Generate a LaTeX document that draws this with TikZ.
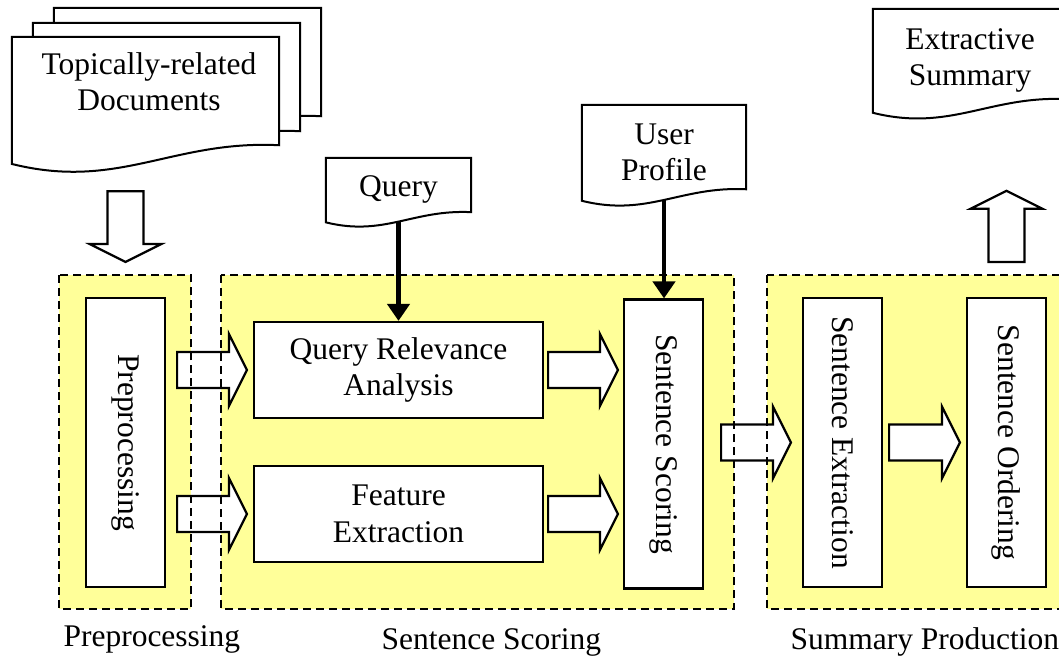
\documentclass[tikz,border=0pt]{standalone}
\usepackage{fontspec}
\usepackage{graphicx}
\setmainfont{Liberation Serif}
\usetikzlibrary{calc,arrows.meta}
\pgfdeclarelayer{background}
\pgfsetlayers{background,main}
\definecolor{stagefill}{HTML}{FFFF99}

\tikzset{
  every node/.style={font=\fontsize{31.5}{36.5}\selectfont},
  procbox/.style={draw, line width=2.2pt, fill=white, align=center, inner sep=0pt},
  vbox/.style={procbox, minimum width=79pt, minimum height=289pt},
  hbox/.style={procbox, minimum width=289pt, minimum height=96pt},
  docnode/.style={inner sep=0pt, align=center},
  docline/.style={draw, fill=white, line width=2pt},
  stagearea/.style={fill=stagefill},
  stageline/.style={draw, line width=1.8pt, dash pattern=on 8pt off 5pt},
  fatarrow/.style={draw, fill=white, line width=2.2pt, line join=miter},
  feed/.style={line width=4.5pt, -{Triangle[length=17pt 0 0,width=22pt 0 0]}},
  caption/.style={anchor=base west},
}

% document symbol with a wavy lower edge, built on a node;
% #2,#3 move a copy right/up (used for the stacked pages)
\newcommand\docframe[3]{%
  \path[docline] let \p1=($(#1.north west)+(#2pt,#3pt)$),
                     \p2=($(#1.south east)+(#2pt,#3pt)$),
                     \n1={\x2-\x1} in
    (\x1,\y1) -- (\x2,\y1) -- (\x2,{\y2+0.065*\n1})
    .. controls ({\x2-0.4*\n1},{\y2+0.085*\n1}) and ({\x1+0.4*\n1},{\y2-0.105*\n1})
    .. (\x1,{\y2-0.005*\n1}) -- cycle;}

% wide hollow arrow from #1 to #2
\newcommand\hollowarrow[2]{%
  \coordinate (hah) at ($(#2)!18pt!(#1)$);
  \path[fatarrow] ($(#1)!18pt!90:(#2)$) -- ($(hah)!18pt!90:(#2)$)
    -- ($(hah)!36pt!90:(#2)$) -- (#2) -- ($(hah)!36pt!-90:(#2)$)
    -- ($(hah)!18pt!-90:(#2)$) -- ($(#1)!18pt!-90:(#2)$) -- cycle;}

\begin{document}
\begin{tikzpicture}[x=1pt,y=-1pt]
\useasboundingbox (0,0) rectangle (1059,657);

% documents
\node[docnode, minimum width=267pt, minimum height=125.4pt] (docs) at (145.5,99.7) {};
\node[docnode] (docstext) at (149,81.5) {Topically-related\\Documents};
\node[docnode, minimum width=145pt, minimum height=63.4pt] (query) at (398.5,189.7) {Query};
\node[docnode, minimum width=164pt, minimum height=94.7pt] (user) at (664,152.4) {User\\Profile};
\node[docnode, minimum width=194pt, minimum height=102.6pt] (summ) at (970,60.3) {Extractive\\Summary};

% processing steps
\node[vbox] (pre) at (125.5,442.5) {\rotatebox{-90}{Preprocessing}};
\node[hbox] (qra) at (398.5,370) {Query Relevance\\Analysis};
\node[hbox] (fe) at (398.5,514) {Feature\\Extraction};
\node[vbox] (ss) at (663.5,444) {\rotatebox{-90}{Sentence Scoring}};
\node[vbox] (se) at (842.5,442.5) {\rotatebox{-90}{Sentence Extraction}};
\node[vbox] (so) at (1006.5,442.5) {\rotatebox{-90}{Sentence Ordering}};

% stage areas and document outlines
\begin{pgfonlayer}{background}
  \path[stagearea] (59,275) rectangle (191,609);
  \path[stagearea] (221,275) rectangle (734,609);
  \path[stagearea] (767,275) rectangle (1080,609);
  \docframe{docs}{42}{29}
  \docframe{docs}{21}{14}
  \docframe{docs}{0}{0}
  \docframe{query}{0}{0}
  \docframe{user}{0}{0}
  \docframe{summ}{0}{0}
\end{pgfonlayer}

% inputs
\draw[feed] (query.south) -- (qra.north);
\draw[feed] (user.south) -- (user.south |- ss.north);

% flow between steps
\hollowarrow{$(pre.north |- docs.south)+(0,28.6)$}{$(pre.north)+(0,-35)$}
\hollowarrow{$(pre.east |- qra.west)+(11,0)$}{$(qra.west)+(-6,0)$}
\hollowarrow{$(pre.east |- fe.west)+(11,0)$}{$(fe.west)+(-6,0)$}
\hollowarrow{$(qra.east)+(4,0)$}{$(ss.west |- qra.east)+(-5,0)$}
\hollowarrow{$(fe.east)+(4,0)$}{$(ss.west |- fe.east)+(-5,0)$}
\hollowarrow{$(ss.east |- se.west)+(17,0)$}{$(se.west)+(-11,0)$}
\hollowarrow{$(se.east)+(6,0)$}{$(so.west)+(-6,0)$}
\hollowarrow{$(so.north)+(0,-35)$}{$(so.north |- summ.south)+(0,79)$}

% stage borders
\path[stageline] (59,275) rectangle (191,609);
\path[stageline] (221,275) rectangle (734,609);
\path[stageline] (767,275) rectangle (1080,609);

% stage names
\node[caption] (cappre) at (60,646) {Preprocessing};
\node[caption] (capscore) at (378,649) {Sentence Scoring};
\node[caption] (capprod) at (787,649) {Summary Production};
\end{tikzpicture}
\end{document}
